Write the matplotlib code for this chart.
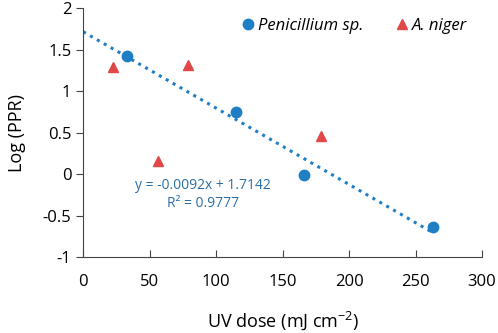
import matplotlib.pyplot as plt
import numpy as np

plt.rcParams['font.family'] = ['Open Sans', 'DejaVu Sans']
plt.rcParams['mathtext.fontset'] = 'custom'
plt.rcParams['mathtext.rm'] = 'Open Sans'

# Penicillium sp.
pen_x = [33.1, 114.8, 166.2, 263.4]
pen_y = [1.424, 0.752, -0.014, -0.642]
# A. niger
nig_x = [22.8, 56.4, 79.2, 179.2]
nig_y = [1.29, 0.16, 1.31, 0.458]
# trend line (Penicillium)
slope = -0.0092
intercept = 1.7142
r2 = 0.9777

blue = '#1f7fc4'
red = '#e04848'

fig = plt.figure(figsize=(4.98, 3.33), dpi=100)
ax = fig.add_axes([0.167, 0.228, 0.801, 0.748])

xl = np.array([0, pen_x[-1]])
ax.plot(xl, slope * xl + intercept, linestyle=(0, (1, 1.6)), color=blue, linewidth=2.2)
ax.plot(pen_x, pen_y, 'o', color=blue, markersize=7.5, label='Penicillium sp.', zorder=3)
ax.plot(nig_x, nig_y, '^', color=red, markersize=7.5, label='A. niger', zorder=3)

ax.text(0.30, 0.251, 'y = %.4fx + %.4f\nR² = %.4f' % (slope, intercept, r2),
        transform=ax.transAxes, color='#2a6ea6', fontsize=10, ha='center', va='center',
        linespacing=1.35)

ax.set_xlim(0, 300)
ax.set_ylim(-1, 2)
ax.set_xticks([0, 50, 100, 150, 200, 250, 300])
ax.set_yticks([-1, -0.5, 0, 0.5, 1, 1.5, 2])
ax.set_yticklabels(['-1', '-0.5', '0', '0.5', '1', '1.5', '2'])
ax.spines['top'].set_visible(False)
ax.spines['right'].set_visible(False)
for s in ['left', 'bottom']:
    ax.spines[s].set_color('#444444')
ax.tick_params(axis='x', direction='in', length=5, color='#444444', labelsize=12, pad=12)
ax.tick_params(axis='y', direction='out', length=5, color='#444444', labelsize=12)

ax.set_xlabel('UV dose (mJ cm$^{-2}$)', fontsize=13, labelpad=14)
ax.set_ylabel('Log (PPR)', fontsize=13, labelpad=12)

leg = ax.legend(loc='upper right', ncol=2, frameon=False, handletextpad=0.1,
                handlelength=1, columnspacing=1.8, bbox_to_anchor=(1.0, 1.02),
                prop={'style': 'italic', 'size': 12})

fig.savefig('out.png', dpi=100)
